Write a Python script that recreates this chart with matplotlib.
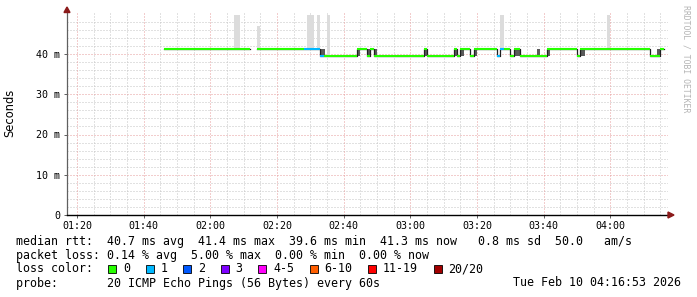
import numpy as np
import matplotlib
matplotlib.use("Agg")
import matplotlib.pyplot as plt
from matplotlib.patches import Rectangle, Polygon

# ---------------- data ----------------
seg_start = ["01:46", "02:12", "02:14", "02:28", "02:33", "02:34", "02:44", "02:47",
             "02:48", "02:49", "03:04", "03:05", "03:13", "03:14", "03:15", "03:18",
             "03:19", "03:26", "03:27", "03:28", "03:30", "03:31", "03:33", "03:41",
             "03:50", "03:51", "04:12", "04:15"]
seg_end_last = "04:16"
seg_median = [41.3, np.nan, 41.3, 41.3, 39.6, 39.6, 41.3, 39.6,
              41.3, 39.6, 41.3, 39.6, 41.3, 39.6, 41.3, 39.6,
              41.3, 39.6, 41.3, 41.3, 39.6, 41.3, 39.6, 41.3,
              39.6, 41.3, 39.6, 41.3]
seg_loss = [0, 0, 0, 1, 1, 0, 0, 0,
            0, 0, 0, 0, 0, 0, 0, 0,
            0, 1, 1, 0, 0, 0, 0, 0,
            0, 0, 0, 0]

# smoke: minutes where pings were split between both levels
split_start = ["02:33", "02:44", "02:47", "02:49", "03:04", "03:13", "03:15",
               "03:19", "03:31", "03:38", "03:41", "03:51", "04:14"]
split_minutes = [1.4, 1, 1, 1, 1, 1, 1, 1, 2, 1, 1, 1.5, 1]
split_lo = 39.6
split_hi = 41.3

# smoke: sparse high outliers
burst_start = ["02:07", "02:14", "02:29", "02:32", "02:35", "03:27", "03:59"]
burst_minutes = [2, 1, 2, 1, 1, 1, 1]
burst_lo = [41.3, 41.3, 41.3, 41.3, 39.6, 41.3, 41.3]
burst_hi = [49.8, 46.9, 49.8, 49.8, 49.8, 49.8, 49.8]

y_ticks = [0, 10, 20, 30, 40]
y_tick_labels = ["0", "10 m", "20 m", "30 m", "40 m"]
x_tick_labels = ["01:20", "01:40", "02:00", "02:20", "02:40", "03:00", "03:20", "03:40", "04:00"]

loss_labels = ["0", "1", "2", "3", "4-5", "6-10", "11-19", "20/20"]
loss_colors = ["#26ff00", "#00b8ff", "#0059ff", "#7e00ff", "#ff00fa", "#ff5e00", "#ff0000", "#a10000"]

legend_rtt = "median rtt:  40.7 ms avg  41.4 ms max  39.6 ms min  41.3 ms now   0.8 ms sd  50.0   am/s"
legend_loss = "packet loss: 0.14 % avg  5.00 % max  0.00 % min  0.00 % now"
legend_probe = "probe:       20 ICMP Echo Pings (56 Bytes) every 60s"
stamp = "Tue Feb 10 04:16:53 2026"


def tmin(s):
    h, m = s.split(":")
    return int(h) * 60 + int(m)


# ---------------- figure ----------------
W, H = 697, 297
fig = plt.figure(figsize=(W / 100, H / 100), dpi=100)
fig.patch.set_facecolor("white")


def px(x, y):
    return (x / W, 1 - y / H)


L, R, T, B = 67, 668, 12, 215
ax = fig.add_axes([L / W, 1 - B / H, (R - L) / W, (B - T) / H])
ppm = 200 / 60.0  # pixels per minute
xmin = 80 - (77 - L) / ppm
xmax = xmin + (R - L) / ppm
ymax = (B - T) / 4.025
ax.set_xlim(xmin, xmax)
ax.set_ylim(0, ymax)
ax.set_facecolor("white")

# grid
minor_c = "#c4c4c4"
major_c = "#e69c9c"
dash = (0, (1, 2))
for v in np.arange(2, ymax, 2):
    if v % 10 == 0:
        continue
    ax.axhline(v, color=minor_c, lw=0.72, ls=dash, zorder=0)
for v in np.arange(85, xmax, 5):
    if (v - 80) % 20 == 0:
        continue
    ax.axvline(v, color=minor_c, lw=0.72, ls=dash, zorder=0)
for v in y_ticks[1:]:
    ax.axhline(v, color=major_c, lw=0.72, ls=dash, zorder=0.5)
xt = [tmin(s) for s in x_tick_labels]
for v in xt:
    ax.axvline(v, color=major_c, lw=0.72, ls=dash, zorder=0.5)

# smoke
ax.bar([tmin(s) for s in burst_start], np.array(burst_hi) - np.array(burst_lo),
       bottom=burst_lo, width=burst_minutes, align="edge", color="#dcdcdc",
       linewidth=0, zorder=1)
ax.bar([tmin(s) for s in split_start], split_hi - split_lo, bottom=split_lo,
       width=split_minutes, align="edge", color="#5a5a5a", linewidth=0, zorder=1)

# median line
xs = [tmin(s) for s in seg_start] + [tmin(seg_end_last)]
ys = list(seg_median) + [seg_median[-1]]
ax.step(xs, ys, where="post", color="#202020", lw=0.9, zorder=2)
for i in range(len(seg_start)):
    if np.isnan(seg_median[i]):
        continue
    ax.hlines(seg_median[i], xs[i], xs[i + 1], color=loss_colors[seg_loss[i]],
              lw=1.5, zorder=3, capstyle="butt")

# axes styling
for s in ["top", "right"]:
    ax.spines[s].set_visible(False)
ax.spines["left"].set_color("#606060")
ax.spines["left"].set_linewidth(0.9)
ax.spines["bottom"].set_color("#000000")
ax.spines["bottom"].set_linewidth(1.0)
ax.set_yticks(y_ticks)
ax.set_yticklabels(y_tick_labels)
ax.set_xticks(xt)
ax.set_xticklabels(x_tick_labels)
ax.tick_params(axis="both", length=2.2, width=0.7, color="#606060",
               labelsize=7.2, pad=2.6)
ax.tick_params(axis="x", pad=1.8)
for lab in ax.get_xticklabels() + ax.get_yticklabels():
    lab.set_fontfamily("DejaVu Sans Mono")
    lab.set_color("#000000")

# arrows
fig.patches.append(Polygon([px(64, 12.5), px(70, 12.5), px(67, 7)], closed=True,
                           transform=fig.transFigure, color="#8b1a1a", figure=fig))
fig.patches.append(Polygon([px(668, 212), px(668, 218), px(674, 215)], closed=True,
                           transform=fig.transFigure, color="#8b1a1a", figure=fig))

# y label
fig.text(*px(10, 113), "Seconds", rotation=90, ha="center", va="center",
         fontsize=8.3, family="DejaVu Sans", color="#000000")

# watermark
fig.text(*px(686, 5), "RRDTOOL / TOBI OETIKER", rotation=270, ha="center", va="top",
         fontsize=5.9, family="DejaVu Sans Mono", color="#b4b4b4")

# legend
mono = dict(family="DejaVu Sans Mono", fontsize=8.4, va="center", color="#000000")
fig.text(*px(16, 241), legend_rtt, **mono)
fig.text(*px(16, 255), legend_loss, **mono)
fig.text(*px(16, 269), "loss color:", **mono)
fig.text(*px(16, 283), legend_probe, **mono)
fig.text(*px(681, 283), stamp, ha="right", **{k: v for k, v in mono.items()})

sx = 108.0
for lab, col in zip(loss_labels, loss_colors):
    x0, y0 = px(sx, 273)
    fig.patches.append(Rectangle((x0, y0), 8 / W, 8 / H, transform=fig.transFigure,
                                 facecolor=col, edgecolor="#000000", lw=0.6, figure=fig))
    fig.text(*px(sx + 15, 269), lab, **mono)
    sx += 30.5 + 7 * len(lab)

fig.savefig("out.png", dpi=100)
